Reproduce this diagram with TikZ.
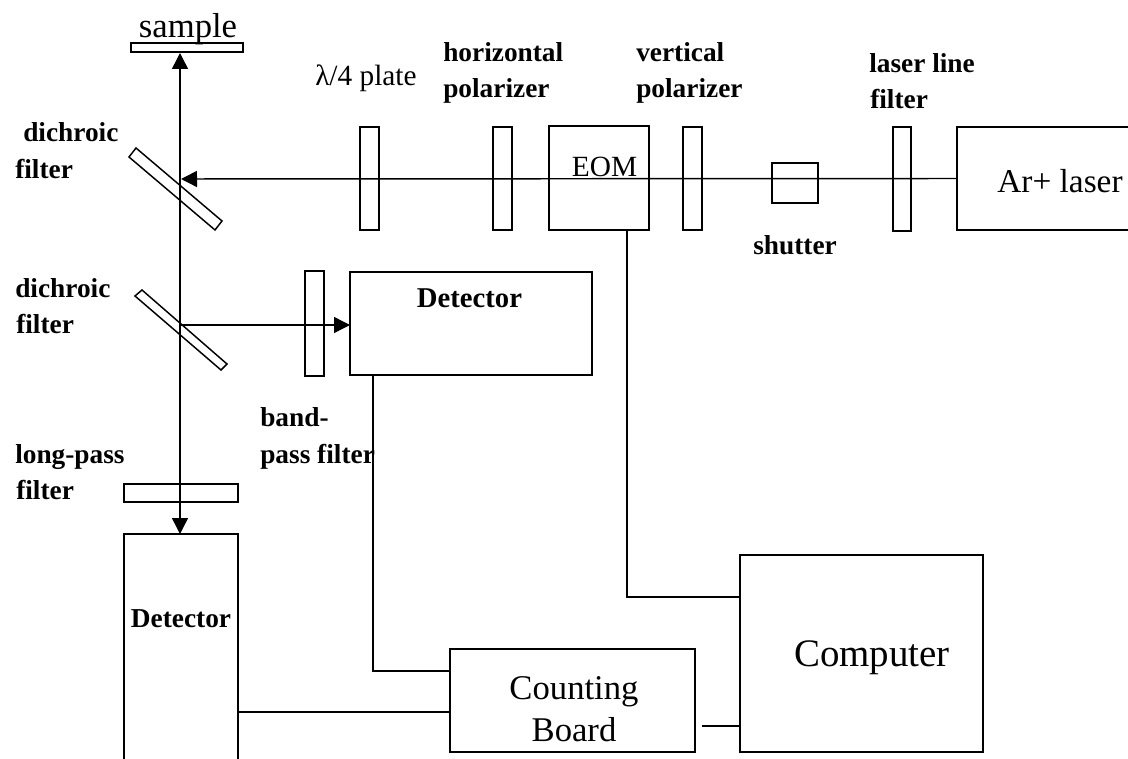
\documentclass[tikz,border=0pt]{standalone}
\usepackage{fontspec}
\setmainfont{Liberation Serif}
\usetikzlibrary{arrows.meta}
\newcommand{\pxbox}[5]{\node[box,minimum width={(#4-#2)*0.75pt},minimum height={(#5-#3)*0.75pt}] (#1) at (#2,#3) {};}
\begin{document}
\begin{tikzpicture}[x=0.75pt,y=-0.75pt,
 box/.style={draw=black,line width=1.1pt,inner sep=0pt,outer sep=0pt,anchor=north west},
 lab/.style={font=\fontsize{20.5}{27.5}\selectfont\bfseries,align=left,anchor=base west,inner sep=0pt},
 reg/.style={inner sep=0pt,anchor=base},
 wire/.style={draw=black,line width=1.1pt},
 arr/.style={wire,-{Triangle[length=12pt,width=12pt]}}]
\useasboundingbox (0,0) rectangle (1128,759);
\clip (0,0) rectangle (1128,759);
% optical components
\pxbox{sample}{131}{43}{243}{52}
\pxbox{qw}{360}{127}{379}{230}
\pxbox{hp}{493}{127}{512}{230}
\pxbox{eom}{549}{126}{649}{230}
\pxbox{vp}{683}{127}{702}{230}
\pxbox{sh}{772}{163}{818}{203}
\pxbox{ll}{893}{127}{911}{231}
\pxbox{laser}{957}{127}{1140}{230}
\pxbox{bp}{305}{271}{324}{376}
\pxbox{det1}{350}{272}{592}{375}
\pxbox{lp}{124}{484}{238}{502}
\pxbox{det2}{124}{534}{238}{775}
\pxbox{board}{450}{649}{695}{752}
\pxbox{comp}{740}{555}{983}{752}
% dichroic filters
\draw[wire] (129,157) -- (136,148) -- (222,221) -- (215,230) -- cycle;
\draw[wire] (135,296) -- (142,290) -- (227,364) -- (221,370) -- cycle;
% beams
\coordinate (beamtop) at (180,53);
\coordinate (beambot) at (180,534);
\coordinate (m1) at (181,179);
\coordinate (m2) at (181,325);
\coordinate (d1in) at (350,325);
\draw[wire,{Triangle[length=12pt,width=12pt]}-{Triangle[length=12pt,width=12pt]}] (beamtop) -- (beambot);
\draw[arr] (laser.west) -- (m1);
\draw[arr] (m2) -- (d1in);
% electrical connections
\coordinate (eomout) at (627,230);
\coordinate (compin) at (740,597);
\coordinate (d1out) at (373,375);
\coordinate (boardin) at (450,671);
\coordinate (d2out) at (238,712);
\coordinate (boardin2) at (450,712);
\coordinate (boardout) at (702,726);
\coordinate (compin2) at (740,726);
\draw[wire] (eomout) |- (compin);
\draw[wire] (d1out) |- (boardin);
\draw[wire] (d2out) -- (boardin2);
\draw[wire] (boardout) -- (compin2);
% box texts
\node[reg,font=\fontsize{26}{30}\selectfont] (samplet) at (188,38) {sample};
\node[reg,font=\fontsize{22}{26}\selectfont] (eomt) at (604.5,177) {EOM};
\node[reg,font=\fontsize{25}{30}\selectfont] (lasert) at (1060,193) {Ar+ laser};
\node[lab,anchor=base,font=\fontsize{21.5}{26}\selectfont\bfseries] (det1t) at (469.5,307) {Detector};
\node[lab,anchor=base] (det2t) at (181,627) {Detector};
\node[reg,font=\fontsize{26}{30}\selectfont] (cnt) at (574,699) {Counting};
\node[reg,font=\fontsize{26}{30}\selectfont] (brd) at (574,741) {Board};
\node[reg,font=\fontsize{29.2}{34}\selectfont] (cpt) at (872,666) {Computer};
% labels
\node[reg,anchor=base west,font=\fontsize{22}{26}\selectfont] (t1) at (315,86) {λ/4 plate};
\node[lab] (t2a) at (443,62) {horizontal};
\node[lab] (t2b) at (443,98) {polarizer};
\node[lab] (t3a) at (636,62) {vertical};
\node[lab] (t3b) at (636,98) {polarizer};
\node[lab] (t4a) at (869,73) {laser line};
\node[lab] (t4b) at (870,109) {filter};
\node[lab] (t5) at (753,255) {shutter};
\node[lab] (t6a) at (23,142) {dichroic};
\node[lab] (t6b) at (15,179) {filter};
\node[lab] (t7a) at (15,298) {dichroic};
\node[lab] (t7b) at (16,334) {filter};
\node[lab] (t8a) at (260,426) {band-};
\node[lab] (t8b) at (260,463) {pass filter};
\node[lab] (t9a) at (15,463) {long-pass};
\node[lab] (t9b) at (16,499) {filter};
\end{tikzpicture}
\end{document}
